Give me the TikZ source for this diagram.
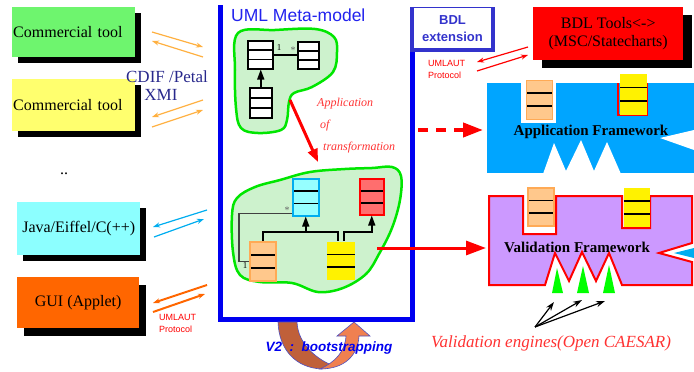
\documentclass[tikz,border=0pt]{standalone}
\usepackage{fontspec}
\setmainfont{Liberation Serif}
\setsansfont{Liberation Sans}
\usetikzlibrary{arrows.meta,calc}
\pgfdeclarelayer{shadowlayer}
\pgfsetlayers{shadowlayer,main}
\definecolor{toolgreen}{RGB}{110,245,110}
\definecolor{toolyellow}{RGB}{255,255,110}
\definecolor{toolcyan}{RGB}{140,255,255}
\definecolor{guiorange}{RGB}{255,102,0}
\definecolor{lorange}{RGB}{255,176,64}
\definecolor{blobfill}{RGB}{205,242,205}
\definecolor{blobline}{RGB}{0,230,0}
\definecolor{frameblue}{RGB}{0,0,240}
\definecolor{bdlblue}{RGB}{51,51,204}
\definecolor{titleblue}{RGB}{34,34,238}
\definecolor{cdifblue}{RGB}{40,40,140}
\definecolor{clsorange}{RGB}{255,200,140}
\definecolor{clsorangeline}{RGB}{255,170,85}
\definecolor{clscyan}{RGB}{150,255,255}
\definecolor{clsred}{RGB}{255,110,110}
\definecolor{appblue}{RGB}{0,165,255}
\definecolor{valpurple}{RGB}{204,153,255}
\definecolor{bootbrown}{RGB}{192,96,58}
\definecolor{bootorange}{RGB}{240,128,80}
\definecolor{bootline}{RGB}{80,80,192}
\definecolor{txtred}{RGB}{255,50,50}
\begin{document}
\begin{tikzpicture}[x=1pt,y=-1pt,
  tool/.style={anchor=north west, inner sep=1pt, font=\fontsize{16}{19}\selectfont},
  cls/.style={draw, line width=1.5pt, anchor=north west, inner sep=0pt,
    path picture={\draw[line width=1.6pt,black]
      ($(path picture bounding box.north west)!0.333!(path picture bounding box.south west)$) --
      ($(path picture bounding box.north east)!0.333!(path picture bounding box.south east)$)
      ($(path picture bounding box.north west)!0.667!(path picture bounding box.south west)$) --
      ($(path picture bounding box.north east)!0.667!(path picture bounding box.south east)$);}},
  pairarrow/.style={-{Stealth[length=7pt,width=5pt]}, line width=1.2pt},
  blob/.style={fill=blobfill, draw=blobline, line width=2.5pt},
  conn/.style={line width=1.5pt, black},
  inh/.style={conn, -{Triangle[length=10pt,width=7pt]}},
  bigred/.style={red, line width=3pt, -{Triangle[length=20pt,width=14pt]}},
  proto/.style={font=\sffamily\fontsize{9}{12}\selectfont, text=red, align=left, anchor=north west, inner sep=0pt},
  redit/.style={font=\itshape\fontsize{12}{12}\selectfont, text=txtred, anchor=west, inner sep=0pt}
]
\useasboundingbox (0,0) rectangle (694,372);

% ---------- left tools ----------
\node[tool, fill=toolgreen, minimum width=123, minimum height=50, text width=121, align=left] (ct1) at (12,7) {Commercial tool};
\node[tool, fill=toolyellow, minimum width=123, minimum height=52, text width=121, align=left] (ct2) at (12,79) {Commercial tool};
\node[font=\fontsize{16}{16}\selectfont] (dots) at (64,174) {..};
\node[tool, fill=toolcyan, minimum width=123, minimum height=53] (java) at (17,202) {Java/Eiffel/C(++)};
\node[tool, fill=guiorange, minimum width=122, minimum height=51] (gui) at (17,277) {GUI (Applet)};
\begin{pgfonlayer}{shadowlayer}
  \fill[black] ([shift={(6,6)}]ct1.north west) rectangle ([shift={(6,6)}]ct1.south east);
  \fill[black] ([shift={(6,6)}]ct2.north west) rectangle ([shift={(6,6)}]ct2.south east);
  \fill[black] ([shift={(6,6)}]java.north west) rectangle ([shift={(6,6)}]java.south east);
  \fill[black] ([shift={(7,8)}]gui.north west) rectangle ([shift={(7,8)}]gui.south east);
\end{pgfonlayer}

\node[font=\fontsize{17}{19}\selectfont, text=cdifblue, inner sep=0pt] (cdif) at (167,77) {CDIF /Petal};
\node[font=\fontsize{17}{19}\selectfont, text=cdifblue, inner sep=0pt] (xmi) at (161,95) {XMI};

% exchange arrows
\coordinate (a1s) at (152,32); \coordinate (a1e) at (203,47);
\coordinate (a2s) at (203,57); \coordinate (a2e) at (152,41);
\coordinate (a3s) at (203,100); \coordinate (a3e) at (152,117);
\coordinate (a4s) at (152,127); \coordinate (a4e) at (203,110);
\draw[pairarrow, lorange] (a1s) -- (a1e);
\draw[pairarrow, lorange] (a2s) -- (a2e);
\draw[pairarrow, lorange] (a3s) -- (a3e);
\draw[pairarrow, lorange] (a4s) -- (a4e);
\coordinate (c1s) at (207,210); \coordinate (c1e) at (153,227);
\coordinate (c2s) at (154,237); \coordinate (c2e) at (204,219);
\draw[pairarrow, cyan] (c1s) -- (c1e);
\draw[pairarrow, cyan] (c2s) -- (c2e);
\coordinate (g1s) at (207,285); \coordinate (g1e) at (153,303);
\coordinate (g2s) at (153,312); \coordinate (g2e) at (205,294);
\draw[pairarrow, guiorange, line width=2pt] (g1s) -- (g1e);
\draw[pairarrow, guiorange, line width=2pt] (g2s) -- (g2e);
\node[proto] (up1) at (159,314) {UMLAUT\\Protocol};

% ---------- UML meta-model frame ----------
\draw[frameblue, line width=5pt] (220.5,5) -- (220.5,319.5) -- (412.5,319.5) -- (412.5,50);
\node[font=\sffamily\fontsize{17.5}{18}\selectfont, text=titleblue, anchor=west, inner sep=0pt] (umltitle) at (231,15) {UML Meta-model};

% upper blob
\draw[blob] plot[smooth cycle, tension=0.6] coordinates {(238,33) (275,30) (315,29) (334,37) (337,52) (333,72) (312,87) (294,93) (289,102) (287,120) (281,130) (258,133) (241,128) (236,108) (235,70)};
\node[cls, fill=white, minimum width=25, minimum height=28] (cA) at (247,40) {};
\node[cls, fill=white, minimum width=21, minimum height=27] (cB) at (297,41) {};
\node[cls, fill=white, minimum width=22, minimum height=30] (cC) at (249,87) {};
\draw[conn] (cA.east) -- (cA.east -| cB.west);
\node[font=\fontsize{9}{9}\selectfont, inner sep=0pt] (m1) at (279,48) {1};
\node[font=\fontsize{10}{10}\selectfont, text=black!60, inner sep=0pt] (m2) at (293,50) {*};
\draw[inh] (cC.north) -- (cC.north |- cA.south);

% transformation arrow
\coordinate (t1) at (290,100); \coordinate (t2) at (318,162);
\draw[red, line width=3pt, -{Triangle[length=13pt,width=10pt]}] (t1) -- (t2);
\node[redit] (tr1) at (317,104) {Application};
\node[redit] (tr2) at (320,126) {of};
\node[redit] (tr3) at (323,148) {transformation};

% lower blob
\draw[blob] plot[smooth cycle, tension=0.6] coordinates {(237,198) (255,187) (280,180) (310,172) (345,169) (372,168) (392,167) (401,176) (400,200) (392,228) (379,254) (366,274) (343,288) (318,292) (292,283) (260,282) (240,275) (233,252) (232,215)};
\node[cls, draw=cyan, fill=clscyan, minimum width=26, minimum height=37] (cY) at (292,178) {};
\node[cls, draw=red, fill=clsred, minimum width=24, minimum height=36] (cR) at (359,178) {};
\node[cls, draw=clsorangeline, fill=clsorange, minimum width=26, minimum height=39] (cO) at (249,241) {};
\node[cls, draw=none, fill=yellow, minimum width=28, minimum height=38] (cW) at (326,241) {};
\coordinate (bar) at (0,232);
\coordinate (wl) at ([xshift=-3pt]cW.north);
\coordinate (wr) at ([xshift=3pt]cW.north);
\draw[conn] (cO.north) |- (bar -| wl) -- (wl);
\draw[inh] (bar -| cY.south) -- (cY.south);
\draw[inh] (wr) |- (bar -| cR.south) -- (cR.south);
\coordinate (ax) at (239,0);
\coordinate (yl) at ([yshift=-16pt]cY.west);
\draw[line width=1.5pt, black!75] (cO.west) -- (cO.west -| ax) |- (yl);
\node[font=\fontsize{10}{10}\selectfont, text=black!60, inner sep=0pt] (m3) at (287,210) {*};
\node[font=\fontsize{9}{9}\selectfont, inner sep=0pt] (m4) at (245,266) {1};

% ---------- BDL ----------
\node[fill=white, minimum width=81, minimum height=43, inner sep=0pt, align=center,
  font=\sffamily\bfseries\fontsize{13}{17}\selectfont, text=bdlblue] (bdl) at (452.5,28.5) {BDL\\extension};
\draw[bdlblue, line width=4.5pt] (bdl.north west) -- (bdl.south west) -- (bdl.south east) -- (bdl.north east);
\draw[bdlblue, line width=0.6pt] (bdl.north west) -- (bdl.north east);

\node[anchor=north west, fill=red, minimum width=150, minimum height=53, inner sep=0pt, align=center,
  font=\fontsize{16}{18}\selectfont] (bdlt) at (533,7) {BDL Tools<->\\(MSC/Statecharts)};
\begin{pgfonlayer}{shadowlayer}
  \fill[black] ([shift={(9,8)}]bdlt.north west) rectangle ([shift={(9,8)}]bdlt.south east);
\end{pgfonlayer}
\coordinate (r1s) at (528,47); \coordinate (r1e) at (477,62);
\coordinate (r2s) at (477,71); \coordinate (r2e) at (528,55);
\draw[pairarrow, red] (r1s) -- (r1e);
\draw[pairarrow, red] (r2s) -- (r2e);
\node[proto] (up2) at (428,60) {UMLAUT\\Protocol};

% ---------- Application framework ----------
\fill[appblue] (487,83) rectangle (694,173);
\fill[white] (543,174) -- (554,143) -- (566,171) -- (581,140) -- (594,171) -- (607,142) -- (621,174) -- cycle;
\fill[white] (694,130) -- (660,138) -- (694,150) -- cycle;
\fill[white] (521,78) rectangle (556,123);
\node[cls, draw=clsorangeline, fill=clsorange, minimum width=26, minimum height=39] (aO) at (525.5,79.5) {};
\draw[red, line width=2pt] (618,83) -- (618,115) -- (647,115) -- (647,83);
\node[cls, draw=none, fill=yellow, minimum width=27, minimum height=41] (aW) at (619,73) {};
\node[font=\bfseries\fontsize{15}{15}\selectfont, inner sep=0pt] (aftext) at (591,132) {Application Framework};
\coordinate (afw) at (487,130);
\coordinate (ds) at (418,130);
\draw[red, line width=4pt, dash pattern=on 10pt off 8pt] (ds) -- ([xshift=-18pt]afw);
\draw[red, line width=4pt, -{Triangle[length=20pt,width=14pt]}] ([xshift=-20pt]afw) -- ([xshift=-4pt]afw);

% ---------- Validation framework ----------
\draw[red, line width=2pt, fill=valpurple, line join=miter]
  (489,196) -- (523,196) -- (523,234) -- (556,234) -- (556,196) -- (622,196) -- (622,228) -- (650,228) -- (650,196)
  -- (692,196) -- (692,243) -- (659,253) -- (692,262) -- (692,285) -- (622,285) -- (609,253) -- (596,281)
  -- (582,252) -- (569,281) -- (555,253) -- (545,285) -- (489,285) -- cycle;
\fill[cyan] (674,253) -- (694,248) -- (694,258) -- cycle;
\node[cls, draw=clsorangeline, fill=clsorange, minimum width=26, minimum height=38] (vO) at (527,187) {};
\node[cls, draw=none, fill=yellow, minimum width=26, minimum height=39] (vW) at (623,187) {};
\node[font=\bfseries\fontsize{15}{15}\selectfont, inner sep=0pt] (vftext) at (577,247) {Validation Framework};
\coordinate (vfw) at (489,248);
\coordinate (vs) at (377,248);
\draw[bigred] (vs) -- ([xshift=-3pt]vfw);

\fill[green] (552,293) -- (563,293) -- (557,268) -- cycle;
\fill[green] (577,293) -- (589,293) -- (583,266) -- cycle;
\fill[green] (603,293) -- (615,293) -- (609,265) -- cycle;
\coordinate (eng) at (535,327);
\coordinate (e1) at (554,302); \coordinate (e2) at (582,300); \coordinate (e3) at (605,301);
\draw[line width=1.2pt, -{Stealth[length=9pt,width=6pt]}] (eng) -- (e1);
\draw[line width=1.2pt, -{Stealth[length=9pt,width=6pt]}] (eng) -- (e2);
\draw[line width=1.2pt, -{Stealth[length=9pt,width=6pt]}] (eng) -- (e3);
\node[font=\itshape\fontsize{17}{17}\selectfont, text=txtred, inner sep=0pt] (vtext) at (551,343) {Validation engines(Open CAESAR)};

% ---------- bootstrapping ----------
\draw[bootline, line width=0.6pt, fill=bootbrown] (278,322) .. controls (279,350) and (296,368) .. (322,369)
  -- (334,366) .. controls (318,360) and (298,345) .. (297,322) -- cycle;
\draw[bootline, line width=0.6pt, fill=bootorange] (320,369) .. controls (345,369) and (358,355) .. (359,336)
  -- (370,336) -- (354,322) -- (337,336) -- (346,336) .. controls (345,352) and (335,362) .. (320,369) -- cycle;
\node[font=\sffamily\bfseries\itshape\fontsize{13.5}{14}\selectfont, text=frameblue, inner sep=0pt] (boot) at (329,348) {V2\ \ :\ \ bootstrapping};
\end{tikzpicture}
\end{document}
